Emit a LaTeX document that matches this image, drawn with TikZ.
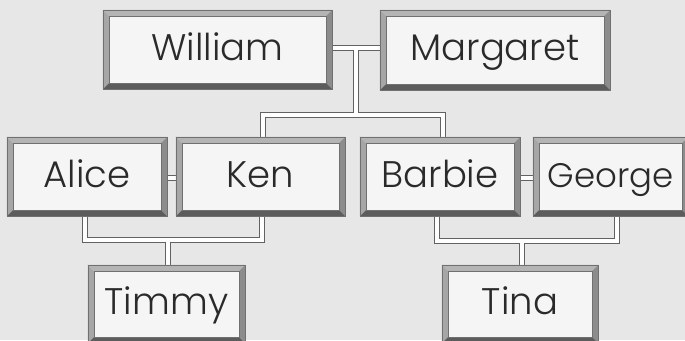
\documentclass[tikz,border=0pt]{standalone}
\usepackage{fontspec}
\setmainfont{Poppins}[UprightFont=* Light]
\usetikzlibrary{calc,backgrounds}
\definecolor{bg}{HTML}{E7E7E7}
\definecolor{boxin}{HTML}{F5F5F5}
\definecolor{ink}{HTML}{2A2A2A}
\definecolor{btop}{HTML}{B4B4B4}
\definecolor{bleft}{HTML}{A6A6A6}
\definecolor{bright}{HTML}{8C8C8C}
\definecolor{bbottom}{HTML}{5C5C5C}
\definecolor{edge}{HTML}{707070}
\definecolor{connline}{HTML}{626262}
\newcommand\bevelbox[1]{%
  \fill[btop] (#1.north west) -- (#1.north east) -- ($(#1.north east)+(-6,6)$) -- ($(#1.north west)+(6,6)$) -- cycle;
  \fill[bleft] (#1.north west) -- (#1.south west) -- ($(#1.south west)+(6,-6)$) -- ($(#1.north west)+(6,6)$) -- cycle;
  \fill[bright] (#1.north east) -- (#1.south east) -- ($(#1.south east)+(-6,-6)$) -- ($(#1.north east)+(-6,6)$) -- cycle;
  \fill[bbottom] (#1.south west) -- (#1.south east) -- ($(#1.south east)+(-6,-6)$) -- ($(#1.south west)+(6,-6)$) -- cycle;
  \draw[edge, line width=0.6pt] (#1.north west) rectangle (#1.south east);
  \draw[edge, line width=0.5pt] ($(#1.north west)+(6,6)$) rectangle ($(#1.south east)+(-6,-6)$);
}
\newcommand\famconnectors{%
  (W.east |- 0,48) -- (M.west |- 0,48)
  (356,48) -- (356,115)
  (263,137) -- (263,115) -- (443,115) -- (443,137)
  (A.east |- 0,178) -- (K.west |- 0,178)
  (B.east |- 0,178) -- (G.west |- 0,178)
  (85,215) -- (85,240) -- (262,240) -- (262,215)
  (168,240) -- (T.north -| 168,0)
  (437,216) -- (437,241) -- (617,241) -- (617,216)
  (522,241) -- (Ti.north -| 522,0)
}
\begin{document}
\begin{tikzpicture}[x=1pt,y=-1pt,
  famname/.style={fill=boxin, inner sep=0pt, text height=21pt, text depth=0pt,
    font=\fontsize{37}{40}\selectfont, text=ink},
  connout/.style={draw=connline, line width=6.4pt},
  connin/.style={draw=white, line width=3.6pt}]
\useasboundingbox (0,0) rectangle (685,340);
\node[famname, minimum width=229pt, minimum height=79pt] (W) at (217.5,49.5) {William};
\node[famname, minimum width=230pt, minimum height=80pt] (M) at (495,50) {Margaret};
\node[famname, minimum width=160pt, minimum height=79pt] (A) at (87,176.5) {Alice};
\node[famname, minimum width=169pt, minimum height=79pt] (K) at (260.5,176.5) {Ken};
\node[famname, minimum width=160pt, minimum height=79pt] (B) at (440,176.5) {Barbie};
\node[famname, minimum width=155pt, minimum height=79pt, font=\fontsize{34}{38}\selectfont] (G) at (610.5,176.5) {George};
\node[famname, minimum width=157pt, minimum height=78pt] (T) at (166.5,304) {Timmy};
\node[famname, minimum width=156pt, minimum height=78pt] (Ti) at (520,304) {Tina};
\foreach \n in {W,M,A,K,B,G,T,Ti} {\bevelbox{\n}}
\begin{scope}[on background layer]
  \fill[bg] (0,0) rectangle (685,340);
  \draw[connout] \famconnectors;
  \draw[connin] \famconnectors;
\end{scope}
\end{tikzpicture}
\end{document}
